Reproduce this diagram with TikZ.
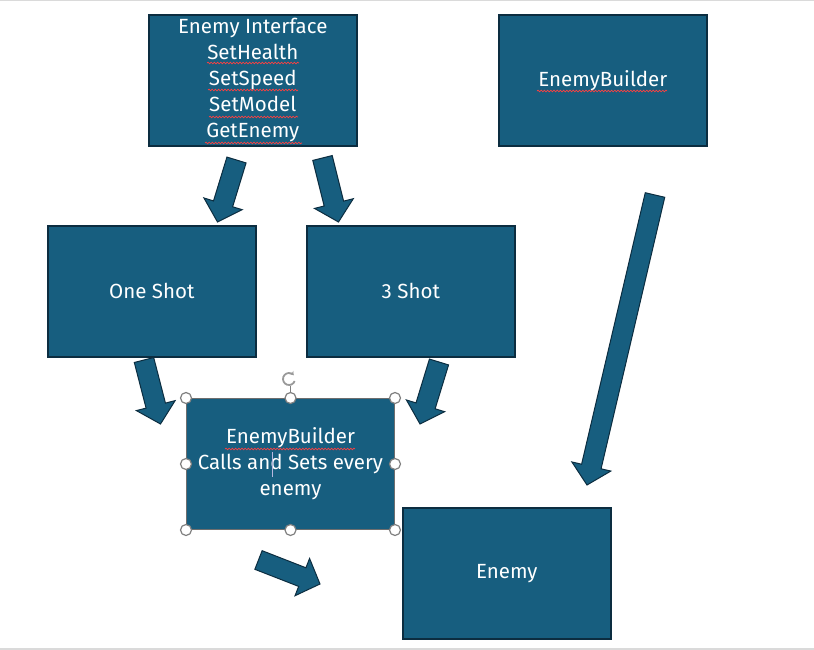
\documentclass[tikz,border=0pt]{standalone}
\usepackage{fontspec}
\setmainfont{Fira Sans}
\usetikzlibrary{calc,decorations.pathmorphing,arrows.meta}
\definecolor{boxfill}{HTML}{175E7F}
\definecolor{boxline}{HTML}{0C2D40}
\definecolor{rulegray}{HTML}{DADADA}
\definecolor{selgray}{HTML}{6E6E6E}
\tikzset{
  box/.style={draw=boxline, line width=1.6pt, fill=boxfill, minimum width=208pt,
    minimum height=131pt, text=white, font=\fontsize{20.5}{26}\selectfont,
    align=center, inner sep=0pt, anchor=north west},
  selbox/.style={box, draw=selgray, line width=1pt},
  barrowstyle/.style={draw=boxline, line width=1pt, fill=boxfill, line join=miter},
  squiggle/.style={draw=red!75!white, line width=0.7pt, decorate,
    decoration={snake, amplitude=0.8pt, segment length=3.2pt}},
  handle/.style={circle, draw=gray, fill=white, line width=1.2pt, minimum size=11pt, inner sep=0pt},
}
% block arrow from tail centre #1 to tip #2
\newcommand{\blockarrow}[2]{%
  \path coordinate (hb) at ($(#2)!19pt!(#1)$);
  \draw[barrowstyle] ($(#1)!10pt!90:(#2)$) -- ($(hb)!10pt!90:(#2)$)
     -- ($(hb)!20pt!90:(#2)$) -- (#2) -- ($(hb)!20pt!-90:(#2)$)
     -- ($(hb)!10pt!-90:(#2)$) -- ($(#1)!10pt!-90:(#2)$) -- cycle;
}
\begin{document}
\begin{tikzpicture}[x=1pt,y=-1pt]
\useasboundingbox (0,0) rectangle (814,650);
\fill[white] (0,0) rectangle (814,650);
\draw[rulegray, line width=1.5pt] (0,0.75) -- (814,0.75);
\draw[rulegray, line width=1.5pt] (0,649) -- (814,649);

% boxes
\node[box] (iface) at (148,14) {Enemy Interface\\SetHealth\\SetSpeed\\SetModel\\GetEnemy};
\node[box] (builder) at (498,14) {EnemyBuilder};
\node[box] (one) at (47,225) {One Shot};
\node[box] (three) at (306,225) {3 Shot};
\node[selbox] (mid) at (186,398) {EnemyBuilder\\Calls and Sets every\\enemy};
\node[box] (enemy) at (402,507) {Enemy};

% spell-check squiggles
\draw[squiggle] (207,63) -- (299,63);
\draw[squiggle] (208,90) -- (298,90);
\draw[squiggle] (209,117) -- (298,117);
\draw[squiggle] (205,143) -- (302,143);
\draw[squiggle] (537,91) -- (667,91);
\draw[squiggle] (225,449) -- (355,449);

% text cursor
\draw[gray!60!blue!40!white, line width=0.8pt] (272.5,452) -- (272.5,477);

% block arrows
\coordinate (a1t) at (236.5,160);  \coordinate (a1h) at (217.5,222);
\coordinate (a2t) at (322.5,158);  \coordinate (a2h) at (338.5,222);
\coordinate (a3t) at (144,360);    \coordinate (a3h) at (160.5,424);
\coordinate (a4t) at (439,362);    \coordinate (a4h) at (420,424);
\coordinate (a5t) at (258.5,560);  \coordinate (a5h) at (320,584);
\coordinate (a6t) at (655,195);    \coordinate (a6h) at (587,485);
\blockarrow{a1t}{a1h}
\blockarrow{a2t}{a2h}
\blockarrow{a3t}{a3h}
\blockarrow{a4t}{a4h}
\blockarrow{a5t}{a5h}
\blockarrow{a6t}{a6h}

% selection handles
\coordinate (rot) at (289,379);
\draw[gray, line width=1.2pt] (mid.north) -- ++(0,-12);
\draw[gray!80, line width=1.8pt, -{Stealth[length=3.5pt,width=5pt]}] ($(rot)+(20:6)$) arc[start angle=20, end angle=320, radius=6];
\foreach \a in {north west,north,north east,west,east,south west,south,south east}
  \node[handle] at (mid.\a) {};
\end{tikzpicture}
\end{document}
